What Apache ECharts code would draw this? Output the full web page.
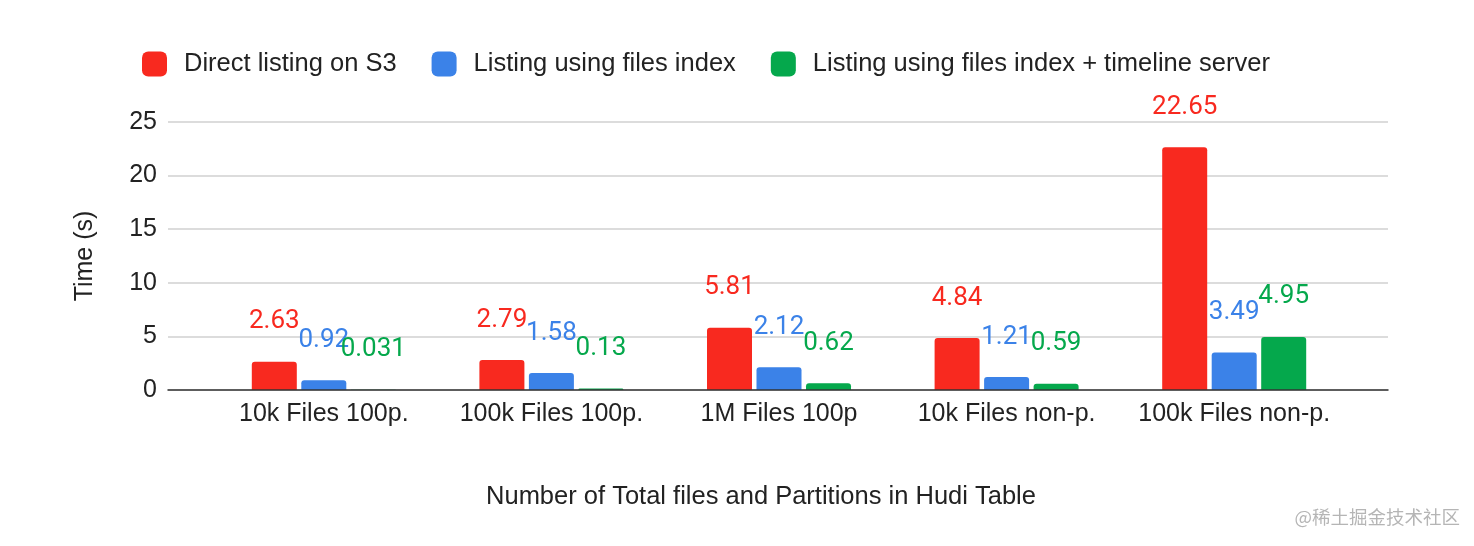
<!DOCTYPE html>
<html>
<head>
<meta charset="utf-8">
<script src="https://cdn.jsdelivr.net/npm/echarts@6/dist/echarts.min.js"></script>
<style>
html,body{margin:0;padding:0;background:#fff;}
#chart{width:1474px;height:546px;}
</style>
</head>
<body>
<div id="chart"></div>
<script>
const categories = ['10k Files 100p.', '100k Files 100p.', '1M Files 100p', '10k Files non-p.', '100k Files non-p.'];
const seriesNames = ['Direct listing on S3', 'Listing using files index', 'Listing using files index + timeline server'];
const directS3 = [2.63, 2.79, 5.81, 4.84, 22.65];
const filesIndex = [0.92, 1.58, 2.12, 1.21, 3.49];
const filesIndexTimeline = [0.031, 0.13, 0.62, 0.59, 4.95];
const yTicks = [0, 5, 10, 15, 20, 25];
const colors = ['#f8291f', '#3b82e8', '#05a84c'];

const FONT = 'Liberation Sans, Arial, sans-serif';
const chart = echarts.init(document.getElementById('chart'), null, {renderer: 'canvas'});

function mk(name, data, i) {
  return {
    name: name,
    type: 'bar',
    xAxisIndex: 1,
    yAxisIndex: 1,
    data: data,
    barWidth: 45,
    barGap: '10%',
    itemStyle: {color: colors[i], borderRadius: [3, 3, 0, 0]},
    label: {
      show: true,
      position: 'top',
      distance: 27,
      color: colors[i],
      fontFamily: 'Roboto, sans-serif',
      fontSize: 26,
      formatter: p => String(p.value)
    }
  };
}

chart.setOption({
  animation: false,
  backgroundColor: '#fff',
  legend: {
    data: seriesNames,
    left: 137,
    top: 46,
    icon: 'roundRect',
    itemWidth: 25,
    itemHeight: 25,
    itemGap: 35,
    textStyle: {fontFamily: FONT, fontSize: 25.5, color: '#222', padding: [0, 0, 0, 12]}
  },
  title: {
    text: 'Number of Total files and Partitions in Hudi Table',
    left: 756,
    top: 479,
    textAlign: 'center',
    textStyle: {fontFamily: FONT, fontSize: 25.5, fontWeight: 'normal', color: '#222'}
  },
  graphic: [{
    type: 'text',
    right: 14,
    top: 508,
    style: {text: '@稀土掘金技术社区', fontFamily: 'Noto Sans CJK SC, sans-serif', fontSize: 18.5, fill: '#b5b5b5'}
  }],
  grid: [
    {left: 168, right: 86, top: 122, bottom: 156},
    {left: 210, right: 126, top: 122, bottom: 156}
  ],
  xAxis: [
    {type: 'category', gridIndex: 0, data: [''], axisTick: {show: false}, axisLabel: {show: false},
     axisLine: {show: true, lineStyle: {color: '#333', width: 1.5}}, z: 5},
    {type: 'category', gridIndex: 1, data: categories, axisTick: {show: false},
     axisLine: {show: false},
     axisLabel: {interval: 0, fontFamily: FONT, fontSize: 25, color: '#222', margin: 12}}
  ],
  yAxis: [
    {type: 'value', gridIndex: 0, min: yTicks[0], max: yTicks[yTicks.length - 1], interval: 5,
     name: 'Time (s)', nameLocation: 'middle', nameGap: 70, nameRotate: 90,
     nameTextStyle: {fontFamily: FONT, fontSize: 25, color: '#222'},
     axisLine: {show: false}, axisTick: {show: false},
     axisLabel: {fontFamily: FONT, fontSize: 25, color: '#222', margin: 11},
     splitLine: {lineStyle: {color: '#d0d0d0', width: 1.5}}},
    {type: 'value', gridIndex: 1, min: yTicks[0], max: yTicks[yTicks.length - 1], interval: 5,
     show: false, splitLine: {show: false}}
  ],
  series: [
    mk(seriesNames[0], directS3, 0),
    mk(seriesNames[1], filesIndex, 1),
    mk(seriesNames[2], filesIndexTimeline, 2)
  ]
});
</script>
</body>
</html>
